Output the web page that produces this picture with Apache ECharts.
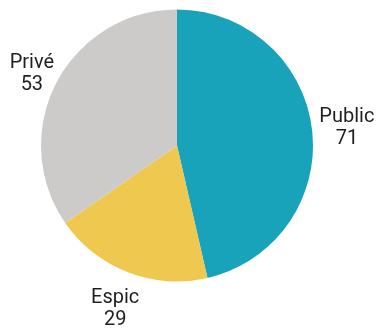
<!DOCTYPE html>
<html>
<head>
<meta charset="utf-8">
<script src="https://cdn.jsdelivr.net/npm/echarts@6/dist/echarts.min.js"></script>
<style>
  html, body { margin: 0; padding: 0; background: #ffffff; }
  #chart { width: 376px; height: 329px; }
</style>
</head>
<body>
<div id="chart"></div>
<script>
// Répartition par secteur
const categories = ['Public', 'Espic', 'Privé'];
const values = [71, 29, 53];
const colors = ['#19a3ba', '#efc94f', '#cccbc9'];

const pieData = categories.map((name, i) => ({
  name: name,
  value: values[i],
  itemStyle: { color: colors[i] }
}));

// small per-label nudges after radial placement
const labelNudge = [[-3, 2], [1, 1], [9, 9]];

const chart = echarts.init(document.getElementById('chart'), null, { renderer: 'canvas' });

chart.setOption({
  animation: false,
  series: [
    {
      // the pie itself
      type: 'pie',
      center: [177, 145.5],
      radius: [0, 136],
      startAngle: 90,
      clockwise: true,
      silent: true,
      itemStyle: { borderWidth: 0 },
      label: { show: false },
      labelLine: { show: false },
      emphasis: { disabled: true },
      data: pieData
    },
    {
      // invisible ring that carries the name / value labels around the pie
      type: 'pie',
      center: [177, 145.5],
      radius: [167, 175],
      startAngle: 90,
      clockwise: true,
      silent: true,
      itemStyle: { color: 'rgba(0,0,0,0)', borderWidth: 0 },
      label: {
        show: true,
        position: 'inside',
        formatter: '{b}\n{c}',
        fontFamily: 'Roboto, "Noto Sans", sans-serif',
        fontSize: 20,
        lineHeight: 22,
        color: '#1f1f1f',
        align: 'center'
      },
      labelLine: { show: false },
      labelLayout: function (params) {
        const n = labelNudge[params.dataIndex] || [0, 0];
        return { dx: n[0], dy: n[1] };
      },
      emphasis: { disabled: true },
      data: pieData.map(d => ({ name: d.name, value: d.value }))
    }
  ]
});
</script>
</body>
</html>
